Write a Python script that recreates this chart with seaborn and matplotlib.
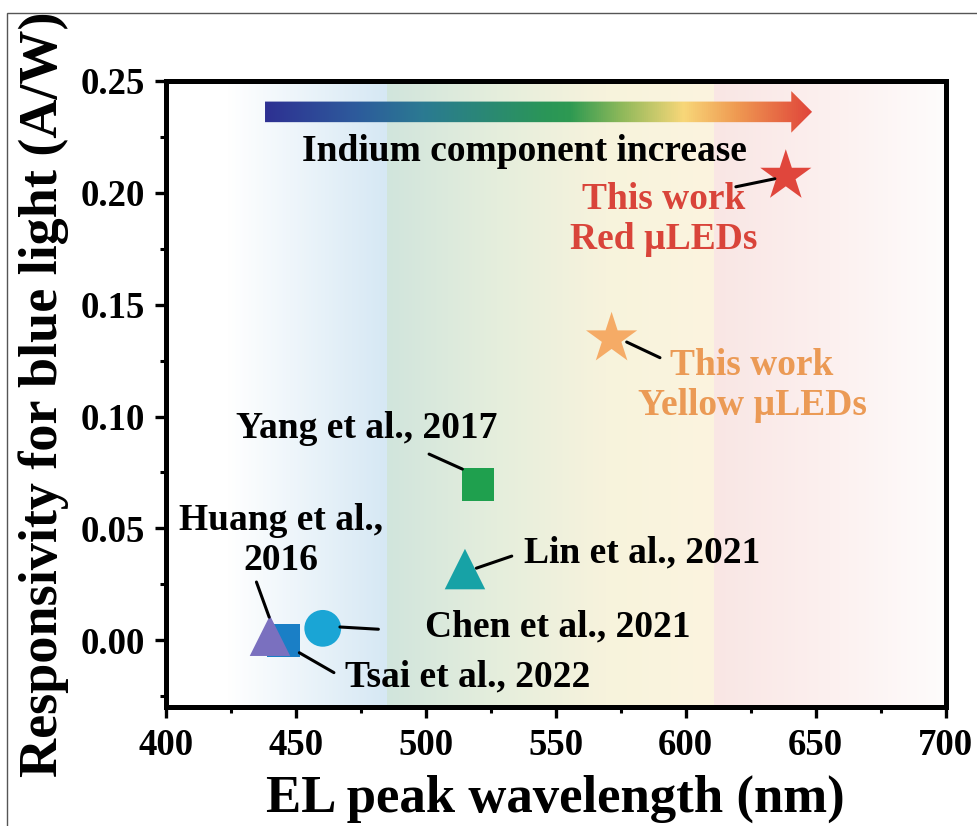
import numpy as np
import pandas as pd
import matplotlib
matplotlib.use("Agg")
import matplotlib.pyplot as plt
import matplotlib.patches as mpatches
from matplotlib.colors import LinearSegmentedColormap, to_rgba
import seaborn as sns

# ---------------- data ----------------
studies = ["Tsai et al., 2022", "Huang et al., 2016", "Chen et al., 2021",
           "Lin et al., 2021", "Yang et al., 2017",
           "This work Yellow", "This work Red"]
wavelength = [445.2, 440.1, 460.4, 515.1, 520.1, 571.5, 638.5]
responsivity = [0.0, 0.002, 0.0053, 0.0318, 0.0697, 0.1348, 0.2075]
marker_shapes = ["s", "^", "o", "^", "s", "*", "*"]
marker_colors = ["#1a7fc6", "#7a70bf", "#1aa5d5", "#17a2a6", "#1fa04e", "#f5ab66", "#e0463c"]
marker_sizes = [560, 850, 700, 850, 560, 1500, 1500]

label_texts = ["Tsai et al., 2022", "Huang et al.,\n2016", "Chen et al., 2021",
               "Lin et al., 2021", "Yang et al., 2017",
               "This work\nYellow µLEDs", "This work\nRed µLEDs"]
label_x = [516.1, 444.2, 550.7, 583.2, 477.4, 625.5, 591.5]
label_y = [-0.0165, 0.0446, 0.0060, 0.0390, 0.0945, 0.1140, 0.1880]
label_colors = ["black", "black", "black", "black", "black", "#eb9a55", "#d9443a"]
# leader line segments (start, end)
lead_x0 = [451.4, 434.9, 467.0, 519.5, 501.3, 577.3, 619.3]
lead_y0 = [-0.0056, 0.0260, 0.0059, 0.0322, 0.0832, 0.1333, 0.2027]
lead_x1 = [464.7, 439.8, 481.8, 533.1, 514.1, 590.1, 634.3]
lead_y1 = [-0.0145, 0.0103, 0.0049, 0.0376, 0.0765, 0.1263, 0.2063]

x_ticks = [400, 450, 500, 550, 600, 650, 700]
y_ticks = [0.00, 0.05, 0.10, 0.15, 0.20, 0.25]

df = pd.DataFrame({"study": studies, "wavelength": wavelength,
                   "responsivity": responsivity})

# ---------------- style ----------------
sns.set_theme(style="ticks")
plt.rcParams["font.family"] = ["Liberation Serif", "DejaVu Serif"]
plt.rcParams["font.weight"] = "bold"
for k in ["text.color", "axes.labelcolor", "xtick.color", "ytick.color", "axes.edgecolor"]:
    plt.rcParams[k] = "black"

fig = plt.figure(figsize=(9.77, 8.26), dpi=100)
ax = fig.add_axes([165.7 / 977, 1 - 707.3 / 826, 780 / 977, (707.3 - 81) / 826])

# background bands
def hband(x0, x1, cols):
    cmap = LinearSegmentedColormap.from_list("b", cols)
    grad = np.linspace(0, 1, 256)[None, :]
    ax.imshow(grad, cmap=cmap, extent=[x0, x1, -0.03, 0.25], aspect="auto",
              zorder=0, interpolation="bicubic")

hband(424, 485, [to_rgba("#ffffff"), to_rgba("#d6e8f4")])
hband(485, 611, [to_rgba("#d1e5dc"), to_rgba("#e5eedd"), to_rgba("#f7f3dc"), to_rgba("#fcf4df")])
hband(611, 700, [to_rgba("#f9e6e4"), to_rgba("#fcf0ef"), to_rgba("#fefcfc")])

# gradient arrow
arrow = mpatches.FancyArrow(438.2, 0.2362, 648.6 - 438.2, 0, width=0.0092,
                            head_width=0.0186, head_length=8.0,
                            length_includes_head=True, transform=ax.transData,
                            facecolor="none", edgecolor="none")
ax.add_patch(arrow)
arrow_cmap = LinearSegmentedColormap.from_list(
    "arr", [(0.0, "#2e3192"), (0.165, "#2d5b9c"), (0.288, "#2b7a92"),
            (0.513, "#2a9658"), (0.558, "#2e9a52"), (0.65, "#8db85a"),
            (0.765, "#f8d779"), (0.862, "#ef9a52"), (1.0, "#e0443a")])
im = ax.imshow(np.linspace(0, 1, 512)[None, :], cmap=arrow_cmap,
               extent=[438.2, 648.6, 0.2255, 0.2469], aspect="auto", zorder=3)
im.set_clip_path(arrow)

# points
sns.scatterplot(data=df, x="wavelength", y="responsivity", hue="study",
                style="study", size="study",
                palette=dict(zip(studies, marker_colors)),
                markers=dict(zip(studies, marker_shapes)),
                sizes=dict(zip(studies, marker_sizes)),
                linewidth=0, legend=False, ax=ax, zorder=4)
ax.set_xlim(400, 700)
ax.set_ylim(-0.03, 0.25)

# leader lines and labels
for i in range(len(studies)):
    ax.annotate("", xy=(lead_x1[i], lead_y1[i]), xytext=(lead_x0[i], lead_y0[i]),
                arrowprops=dict(arrowstyle="-", color="black", lw=2.2,
                                shrinkA=0, shrinkB=0), zorder=5)
    ax.text(label_x[i], label_y[i], label_texts[i], color=label_colors[i],
            fontsize=27, fontweight="bold", ha="center", va="center",
            multialignment="center", linespacing=1.2, zorder=6)

ax.text(537.8, 0.2185, "Indium component increase", fontsize=27, fontweight="bold",
        ha="center", va="center", color="black", zorder=6)

# axes styling
ax.set_xticks(x_ticks)
ax.set_yticks(y_ticks)
ax.set_xticklabels([f"{t}" for t in x_ticks])
ax.set_yticklabels([f"{t:.2f}" for t in y_ticks])
ax.set_xticks([425, 475, 525, 575, 625, 675], minor=True)
ax.set_yticks([-0.025, 0.025, 0.075, 0.125, 0.175, 0.225], minor=True)
for s in ax.spines.values():
    s.set_linewidth(3.6)
    s.set_color("black")
ax.tick_params(which="major", direction="out", length=8, width=2.4,
               labelsize=26.5, pad=7, colors="black")
ax.tick_params(which="minor", direction="out", length=4.5, width=2.2, colors="black")
for lab in ax.get_xticklabels() + ax.get_yticklabels():
    lab.set_fontweight("bold")
ax.set_xlabel("EL peak wavelength (nm)", fontsize=38, fontweight="bold",
              labelpad=8, color="black")
ax.set_ylabel("Responsivity for blue light (A/W)", fontsize=39, fontweight="bold",
              labelpad=8, color="black")

# figure frame
fig.patches.append(mpatches.Rectangle((7.3 / 977, -0.05), 1.2, 1.05 - 13.3 / 826,
                                      transform=fig.transFigure, fill=False,
                                      edgecolor="#555555", linewidth=1.0))

fig.savefig("out.png", dpi=100)
